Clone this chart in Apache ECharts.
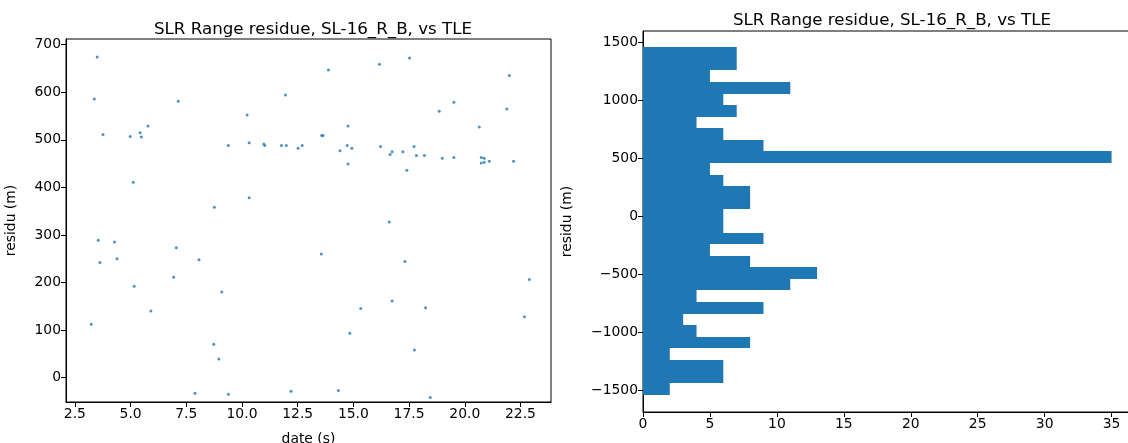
<!DOCTYPE html>
<html>
<head>
<meta charset="utf-8">
<script src="https://cdn.jsdelivr.net/npm/echarts@6/dist/echarts.min.js"></script>
<style>
  html, body { margin: 0; padding: 0; background: #fff; }
  #chart { width: 1128px; height: 443px; }
</style>
</head>
<body>
<div id="chart"></div>
<script>
// scatter: residue vs time
var dateS = [3.50, 3.37, 3.76, 4.98, 5.43, 5.48, 5.78, 7.14, 5.12, 9.39, 10.23, 10.32, 10.32, 8.76, 10.98, 11.02, 11.77, 11.95, 11.99, 12.52, 12.70,
    13.88, 16.17, 17.52, 22.00, 19.51, 18.85, 21.89, 20.65, 14.76, 13.58, 13.64, 14.72, 14.40, 14.93, 14.76, 16.22, 16.65, 16.74, 17.22, 17.72,
    17.83, 18.19, 17.40, 18.99, 19.51, 20.74, 20.87, 20.74, 20.87, 21.10, 22.19,
    3.55, 4.28, 3.62, 4.39, 7.05, 8.07, 6.93, 5.16, 9.09, 5.91, 3.23, 8.73, 8.96, 7.89, 9.39, 12.20,
    16.61, 13.56, 17.31, 22.90, 16.74, 15.33, 18.24, 22.68, 14.84, 17.74, 14.33, 18.45];
var residuM = [674, 586, 511, 507, 515, 506, 529, 581, 411, 488, 552, 494, 378, 358, 491, 488, 488, 594, 488, 482, 488,
    647, 659, 672, 635, 579, 560, 565, 527, 529, 509, 509, 488, 477, 482, 449, 486, 469, 475, 475, 486,
    467, 467, 436, 461, 463, 463, 461, 451, 453, 455, 455,
    289, 285, 242, 250, 273, 248, 211, 192, 180, 140, 112, 70, 39, -33, -35, -29,
    327, 260, 244, 206, 161, 145, 147, 128, 93, 58, -27, -42];

// histogram: counts per 100 m bin, from the lowest bin upward
var binStart = -1540;
var binWidth = 100;
var binCounts = [2, 6, 6, 2, 8, 4, 3, 9, 4, 11, 13, 8, 5, 9, 6, 6, 8, 8, 6, 5, 35, 9, 6, 4, 7, 6, 11, 5, 7, 7];

// tick values
var dateTicks = [2.5, 5, 7.5, 10, 12.5, 15, 17.5, 20, 22.5];
var residuTicks = [0, 100, 200, 300, 400, 500, 600, 700];
var countTicks = [0, 5, 10, 15, 20, 25, 30, 35];
var histResiduTicks = [-1500, -1000, -500, 0, 500, 1000, 1500];

var titleText = 'SLR Range residue, SL-16_R_B, vs TLE';
var blue = '#1f77b4';
var font = 'DejaVu Sans';

var scatterData = dateS.map(function (d, i) { return [d, residuM[i]]; });
var histData = binCounts.map(function (c, i) {
    var lo = binStart + i * binWidth;
    return [c, lo, lo + binWidth];
});

var tickLabel = { fontFamily: font, fontSize: 13.9, color: '#000', margin: 5 };
var axisLine = { show: true, onZero: false, lineStyle: { color: '#000', width: 1 } };
var minus = function (v) { return String(v).replace('-', '\u2212'); };

function ticks(values) {
    return { show: true, inside: false, length: 5, customValues: values, lineStyle: { color: '#000', width: 1 } };
}
function labels(values, fmt) {
    return Object.assign({}, tickLabel, { customValues: values, formatter: fmt, hideOverlap: false });
}

var chart = echarts.init(document.getElementById('chart'));
chart.setOption({
    animation: false,
    backgroundColor: '#fff',
    title: [
        { text: titleText, left: 308, top: 16, textAlign: 'center',
          textStyle: { fontFamily: font, fontSize: 16.7, fontWeight: 'normal', color: '#000' } },
        { text: titleText, left: 887, top: 7, textAlign: 'center',
          textStyle: { fontFamily: font, fontSize: 16.7, fontWeight: 'normal', color: '#000' } }
    ],
    grid: [
        { left: 66, top: 39, width: 485, height: 363, outerBoundsMode: 'none', containLabel: false,
          show: true, borderColor: '#000', borderWidth: 1, backgroundColor: 'transparent' },
        { left: 643, top: 31, width: 492, height: 381, outerBoundsMode: 'none', containLabel: false,
          show: true, borderColor: '#000', borderWidth: 1, backgroundColor: 'transparent' }
    ],
    xAxis: [
        { type: 'value', gridIndex: 0, min: 2.1, max: 23.87,
          name: 'date (s)', nameLocation: 'middle', nameGap: 30, nameMoveOverlap: false,
          nameTextStyle: { fontFamily: font, fontSize: 13.9, color: '#000' },
          axisLine: axisLine, axisTick: ticks(dateTicks), splitLine: { show: false },
          axisLabel: labels(dateTicks, function (v) { return v.toFixed(1); }) },
        { type: 'value', gridIndex: 1, min: 0, max: 36.75,
          axisLine: axisLine, axisTick: ticks(countTicks), splitLine: { show: false },
          axisLabel: labels(countTicks, minus) }
    ],
    yAxis: [
        { type: 'value', gridIndex: 0, min: -51.4, max: 712,
          name: 'residu (m)', nameLocation: 'middle', nameGap: 48, nameMoveOverlap: false,
          nameTextStyle: { fontFamily: font, fontSize: 13.9, color: '#000' },
          axisLine: axisLine, axisTick: ticks(residuTicks), splitLine: { show: false },
          axisLabel: labels(residuTicks, minus) },
        { type: 'value', gridIndex: 1, min: -1690, max: 1600,
          name: 'residu (m)', nameLocation: 'middle', nameGap: 69, nameMoveOverlap: false,
          nameTextStyle: { fontFamily: font, fontSize: 13.9, color: '#000' },
          axisLine: axisLine, axisTick: ticks(histResiduTicks), splitLine: { show: false },
          axisLabel: labels(histResiduTicks, minus) }
    ],
    series: [
        { type: 'scatter', xAxisIndex: 0, yAxisIndex: 0, data: scatterData,
          symbol: 'circle', symbolSize: 3, itemStyle: { color: blue } },
        { type: 'custom', xAxisIndex: 1, yAxisIndex: 1, data: histData,
          encode: { x: 0, y: [1, 2] },
          renderItem: function (params, api) {
              var a = api.coord([0, api.value(2)]);
              var b = api.coord([api.value(0), api.value(1)]);
              var y0 = Math.round(a[1]), y1 = Math.round(b[1]);
              return {
                  type: 'rect',
                  shape: { x: Math.round(a[0]), y: y0, width: b[0] - Math.round(a[0]), height: y1 - y0 },
                  style: { fill: blue }
              };
          } }
    ]
});
</script>
</body>
</html>
